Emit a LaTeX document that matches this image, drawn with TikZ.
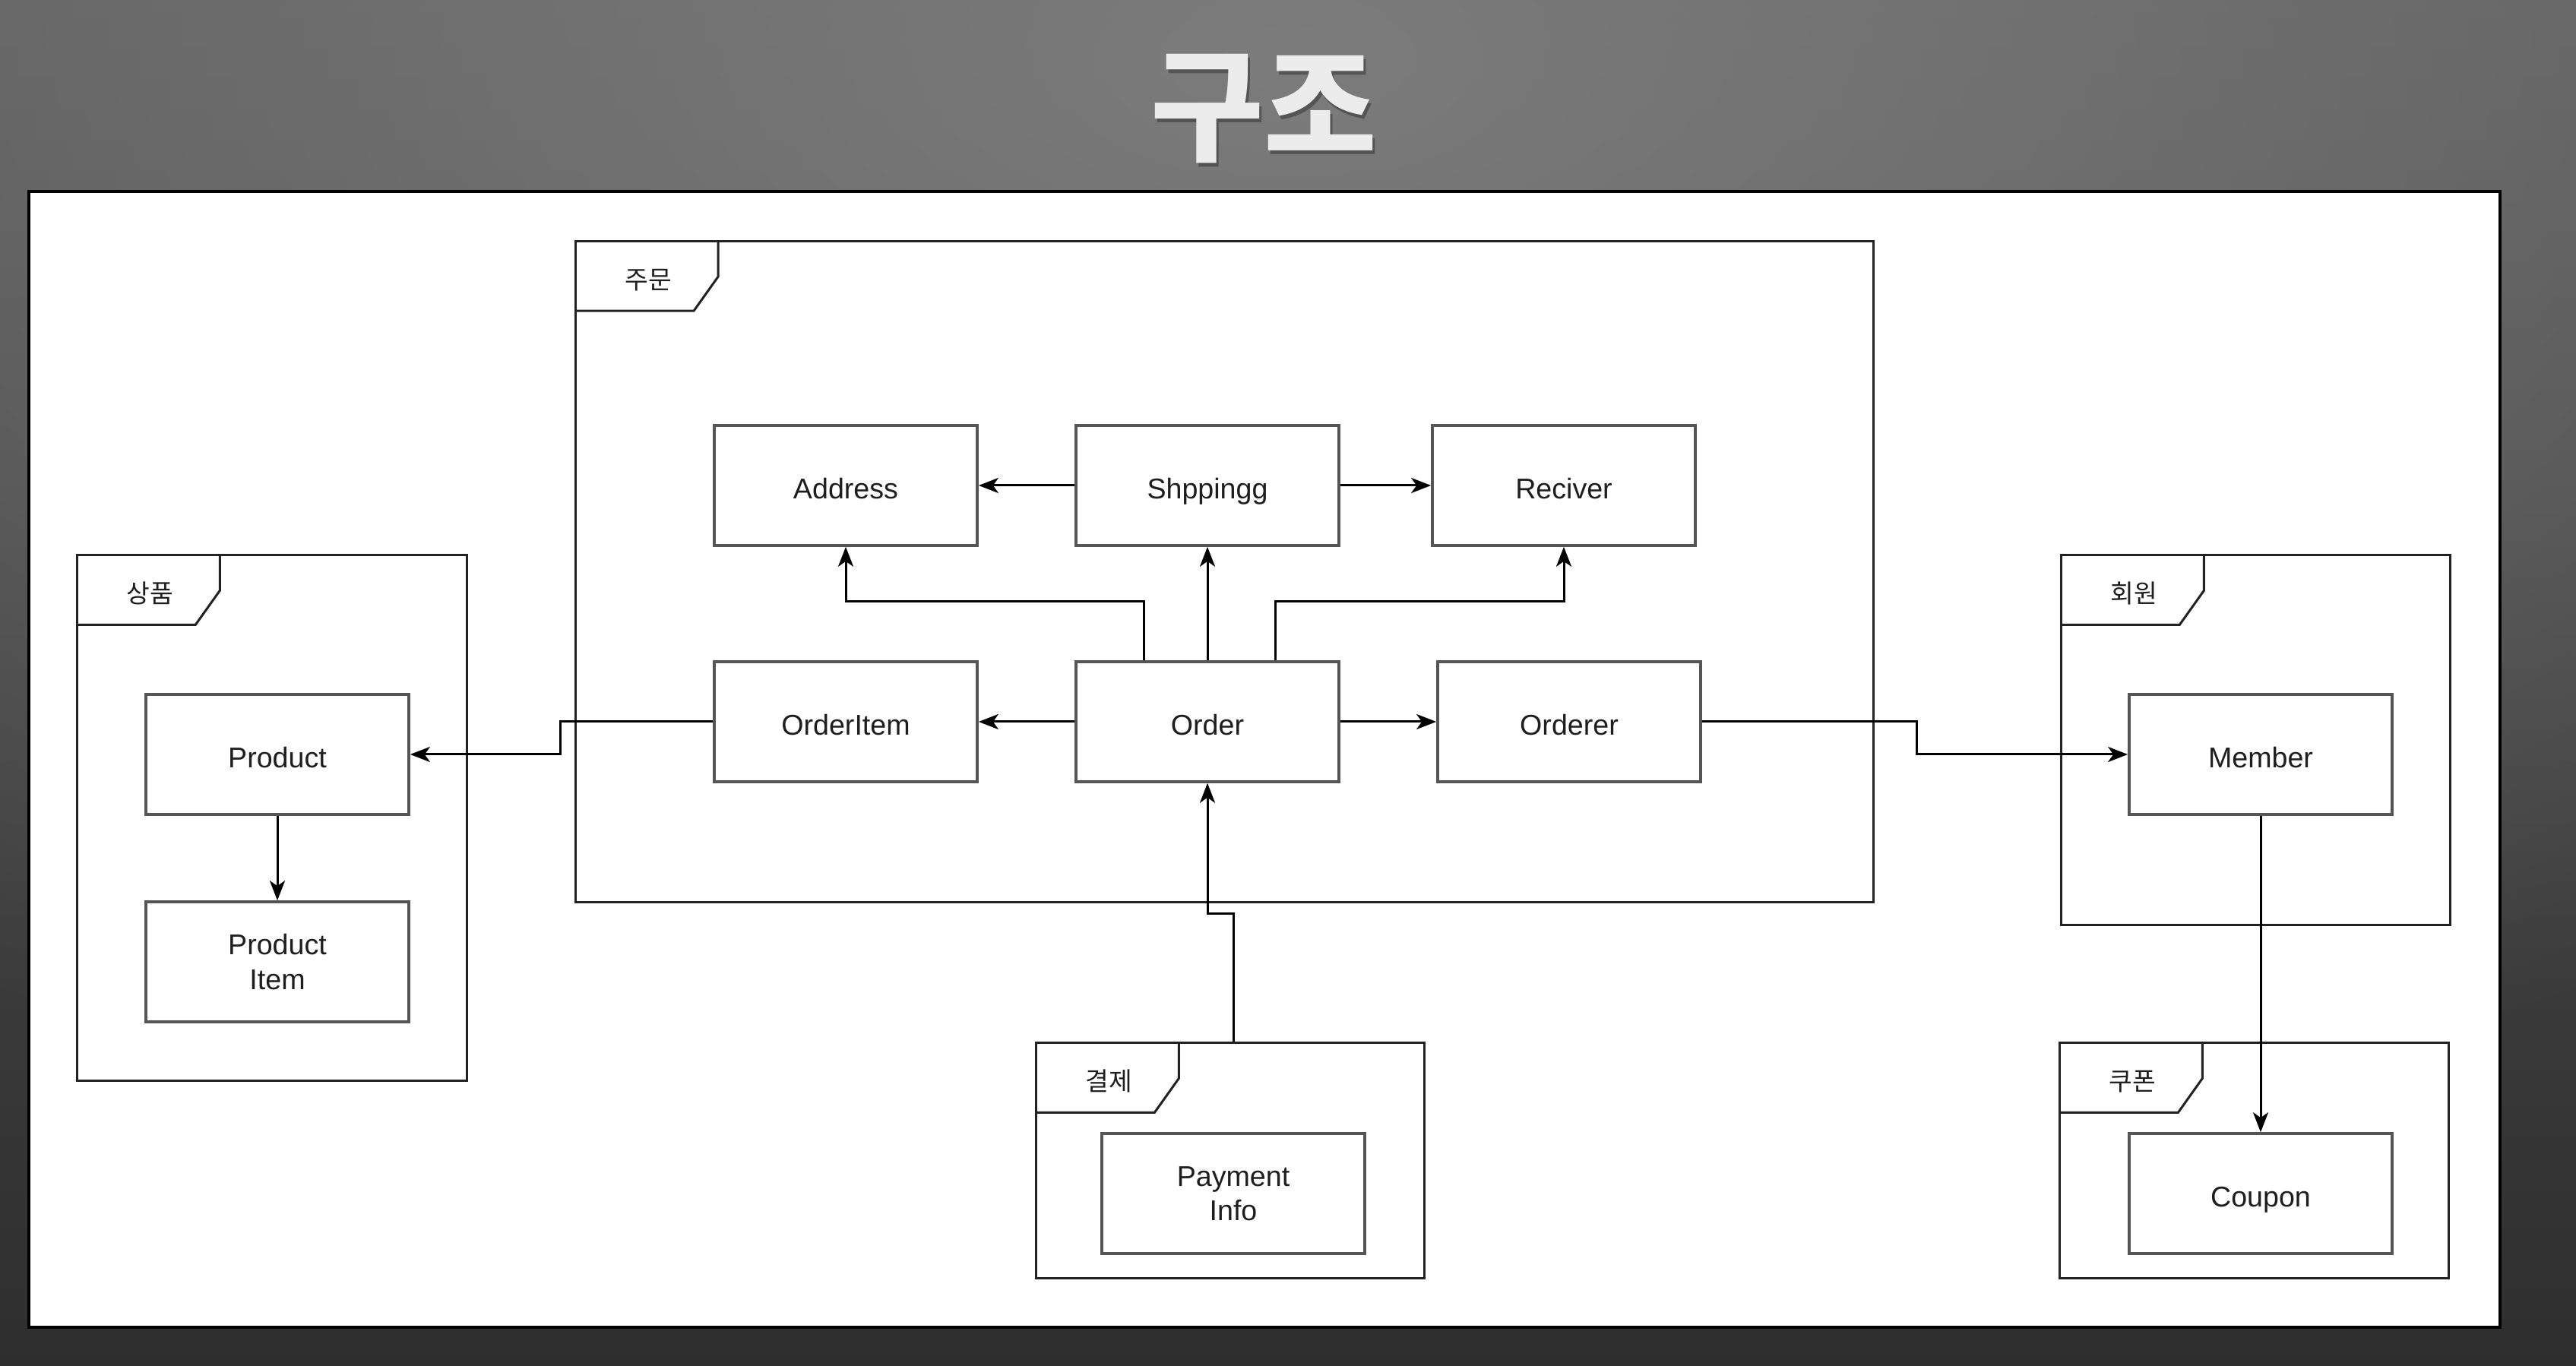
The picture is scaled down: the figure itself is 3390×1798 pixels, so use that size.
\documentclass[tikz,border=0pt]{standalone}
\usepackage{fontspec}
\setmainfont{Liberation Sans}
\newfontfamily\kr{Noto Sans CJK KR}
\usetikzlibrary{arrows.meta,calc,fadings}

\definecolor{bgtop}{HTML}{5A5A5A}
\definecolor{bgbot}{HTML}{2E2E2E}
\definecolor{glowc}{HTML}{7C7C7C}
\definecolor{titlec}{HTML}{ECECEC}
\definecolor{boxc}{HTML}{555555}
\definecolor{framec}{HTML}{222222}
\definecolor{txt}{HTML}{1E1E1E}

\tikzfading[name=glowfade, inner color=transparent!0, outer color=transparent!100]

\begin{document}
\begin{tikzpicture}[
  x=0.01cm, y=-0.01cm,
  cls/.style={draw=boxc, line width=0.035cm, fill=white,
    minimum width=3.46cm, minimum height=1.58cm, inner sep=0pt,
    font=\fontsize{10.7}{12.9}\selectfont, text=txt, align=center},
  onerow/.style={text height=2.1ex, text depth=0.2ex},
  pkg/.style={draw=framec, line width=0.03cm, fill=white, inner sep=0pt},
  tabline/.style={draw=framec, line width=0.03cm},
  pkglabel/.style={font=\kr\fontsize{9.5}{11}\selectfont, text=txt},
  arr/.style={draw=black, line width=0.03cm,
    -{Stealth[length=0.26cm, width=0.2cm, inset=0.07cm]}},
  titlefont/.style={font=\kr\bfseries\fontsize{46}{50}\selectfont}
]
\useasboundingbox (0,0) rectangle (3390,1798);

% backdrop: dark vertical gradient with a soft light spot behind the heading
\shade[top color=bgtop, bottom color=bgbot] (0,0) rectangle (3390,1798);
\fill[glowc, path fading=glowfade] (1695,80) ellipse (3000 and 1500);

% heading with a faint drop shadow
\node[titlefont, text=black, opacity=0.3] at (1666,148) {구조};
\node[titlefont, text=titlec] (title) at (1663,143) {구조};

% white sheet
\draw[line width=0.04cm, draw=black, fill=white] (38,252) rectangle (3290,1747);

% packages
\node[pkg, minimum width=17.07cm, minimum height=8.69cm] (pOrd)  at (1611.5,752.5) {};
\node[pkg, minimum width=5.12cm,  minimum height=6.91cm] (pProd) at (358,1076.5) {};
\node[pkg, minimum width=5.11cm,  minimum height=4.86cm] (pMem)  at (2968.5,974) {};
\node[pkg, minimum width=5.10cm,  minimum height=3.09cm] (pPay)  at (1619,1527.5) {};
\node[pkg, minimum width=5.11cm,  minimum height=3.09cm] (pCoup) at (2966.5,1527.5) {};

% package tabs with their names
\foreach \p/\t in {pOrd/주문, pProd/상품, pMem/회원, pPay/결제, pCoup/쿠폰}{
  \draw[tabline] ($(\p.north west)+(0,93)$) -- ++(157,0) -- ++(32,-45) -- ++(0,-48);
  \node[pkglabel] at ($(\p.north west)+(97,52)$) {\t};
}

% classes
\node[cls, onerow] (addr)    at (1113,639) {Address};
\node[cls, onerow] (ship)    at (1589,639) {Shppingg};
\node[cls, onerow] (recv)    at (2058,639) {Reciver};
\node[cls, onerow] (oitem)   at (1113,950) {OrderItem};
\node[cls, onerow] (order)   at (1589,950) {Order};
\node[cls, onerow] (orderer) at (2065,950) {Orderer};
\node[cls, onerow] (product) at (365,993)  {Product};
\node[cls]         (pitem)   at (365,1266) {Product\\Item};
\node[cls, onerow] (member)  at (2975,993) {Member};
\node[cls, onerow] (coupon)  at (2975,1571) {Coupon};
\node[cls]         (pay)     at (1623,1571) {Payment\\Info};

% dependencies
\draw[arr] (ship.west) -- (addr.east);
\draw[arr] (ship.east) -- (recv.west);
\draw[arr] (order.north) -- (ship.south);
\draw[arr] ($(order.north)+(-84,0)$) -- ++(0,-78) -| (addr.south);
\draw[arr] ($(order.north)+(89,0)$) -- ++(0,-78) -| (recv.south);
\draw[arr] (order.west) -- (oitem.east);
\draw[arr] (order.east) -- (orderer.west);
\draw[arr] (oitem.west) -- ++(-201,0) |- (product.east);
\draw[arr] (orderer.east) -- ++(283,0) |- (member.west);
\draw[arr] (product.south) -- (pitem.north);
\draw[arr] (member.south) -- (coupon.north);
\draw[arr] (pay.north |- pPay.north) -- ++(0,-169) -| (order.south);
\end{tikzpicture}
\end{document}
